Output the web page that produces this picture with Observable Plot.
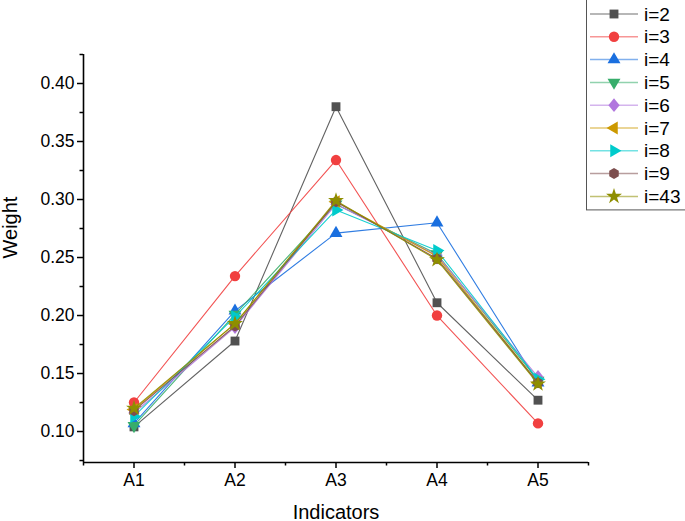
<!DOCTYPE html>
<html>
<head>
<meta charset="utf-8">
<script src="https://cdn.jsdelivr.net/npm/d3@7"></script>
<script src="https://cdn.jsdelivr.net/npm/@observablehq/plot@0.6"></script>
<style>
  html, body { margin: 0; padding: 0; background: #fff; }
  #wrap { position: relative; width: 685px; height: 521px; font-family: "Liberation Sans", Arial, sans-serif; }
  #legend { position: absolute; left: 0; top: 0; }
</style>
</head>
<body>
<div id="wrap"></div>
<script>
// ---- data ----
const categories = ["A1", "A2", "A3", "A4", "A5"];
const seriesNames = ["i=2", "i=3", "i=4", "i=5", "i=6", "i=7", "i=8", "i=9", "i=43"];
const w_i2  = [0.104, 0.178, 0.380, 0.211, 0.127];
const w_i3  = [0.125, 0.234, 0.334, 0.200, 0.107];
const w_i4  = [0.107, 0.204, 0.271, 0.280, 0.142];
const w_i5  = [0.105, 0.201, 0.296, 0.253, 0.144];
const w_i6  = [0.116, 0.190, 0.296, 0.252, 0.147];
const w_i7  = [0.119, 0.193, 0.298, 0.251, 0.142];
const w_i8  = [0.113, 0.199, 0.291, 0.256, 0.145];
const w_i9  = [0.118, 0.191, 0.298, 0.249, 0.142];
const w_i43 = [0.120, 0.193, 0.299, 0.248, 0.141];
const seriesValues = [w_i2, w_i3, w_i4, w_i5, w_i6, w_i7, w_i8, w_i9, w_i43];
const yTicks = [0.10, 0.15, 0.20, 0.25, 0.30, 0.35, 0.40];
const yMinorTicks = [0.075, 0.125, 0.175, 0.225, 0.275, 0.325, 0.375, 0.425];

// ---- styles ----
const colors = ["#515151", "#F14040", "#1A6FDF", "#37AD6B", "#B177DE", "#CC9900", "#00CBCC", "#7D4E4E", "#8E8E00"];

const sqrt3 = Math.sqrt(3);
function tri(dir) {
  return {
    draw(ctx, size) {
      const y = -Math.sqrt(size / (sqrt3 * 3));
      let pts = [[0, y * 2], [-sqrt3 * y, -y], [sqrt3 * y, -y]];
      if (dir === "down") pts = pts.map(([a, b]) => [a, -b]);
      if (dir === "left") pts = pts.map(([a, b]) => [b, a]);
      if (dir === "right") pts = pts.map(([a, b]) => [-b, a]);
      ctx.moveTo(pts[0][0], pts[0][1]);
      ctx.lineTo(pts[1][0], pts[1][1]);
      ctx.lineTo(pts[2][0], pts[2][1]);
      ctx.closePath();
    }
  };
}
const diamond = {
  draw(ctx, size) {
    const a = Math.sqrt(size / 2) ;
    ctx.moveTo(0, -a * 1.1);
    ctx.lineTo(a * 0.9, 0);
    ctx.lineTo(0, a * 1.1);
    ctx.lineTo(-a * 0.9, 0);
    ctx.closePath();
  }
};
const hexagon = {
  draw(ctx, size) {
    const r = Math.sqrt(size / (1.5 * sqrt3));
    for (let k = 0; k < 6; k++) {
      const ang = Math.PI / 6 + k * Math.PI / 3;
      const px = r * Math.cos(ang), py = r * Math.sin(ang);
      if (k === 0) ctx.moveTo(px, py); else ctx.lineTo(px, py);
    }
    ctx.closePath();
  }
};
const symbols = [d3.symbolSquare, d3.symbolCircle, tri("up"), tri("down"), diamond, tri("left"), tri("right"), hexagon, d3.symbolStar];
const symbolR = [5, 5.2, 4.8, 4.8, 5, 4.8, 4.8, 5, 5.0];

// ---- table ----
const rows = [];
seriesNames.forEach((name, s) => {
  seriesValues[s].forEach((v, k) => rows.push({series: name, idx: k + 1, cat: categories[k], value: v, s}));
});

const W = 685, H = 521;
const mL = 83, mR = 97, mT = 54, mB = 59;
const yDomain = [0.0733, 0.425];
const font = "Liberation Sans, Arial, sans-serif";

const marks = [];
seriesNames.forEach((name, s) => {
  const data = rows.filter(d => d.s === s);
  marks.push(Plot.line(data, {x: "idx", y: "value", stroke: colors[s], strokeWidth: 1.1, strokeOpacity: 0.9}));
  marks.push(Plot.dot(data, {x: "idx", y: "value", symbol: () => symbols[s], r: symbolR[s], fill: colors[s], stroke: "none"}));
});

const chart = Plot.plot({
  width: W, height: H,
  marginLeft: mL, marginRight: mR, marginTop: mT, marginBottom: mB,
  style: {fontFamily: font, background: "transparent", color: "#000"},
  x: {type: "linear", domain: [0.5, 5.5], axis: null},
  y: {domain: yDomain, axis: null},
  symbol: {type: "identity"},
  marks: [
    ...marks,
    // axis lines
    Plot.ruleX([0.5], {stroke: "#000", strokeWidth: 1.6}),
    Plot.ruleY([yDomain[0]], {stroke: "#000", strokeWidth: 1.6}),
    // x axis
    Plot.axisX({ticks: categories.map((c, k) => k + 1), tickFormat: d => categories[d - 1], tickSize: 6, tickPadding: 5, fontSize: 17.5, strokeWidth: 1.5, label: null, anchor: "bottom"}),
    Plot.axisX({ticks: [0.5, 1.5, 2.5, 3.5, 4.5, 5.5], tickFormat: () => "", tickSize: 3.5, strokeWidth: 1.5, label: null, anchor: "bottom"}),
    // y axis
    Plot.axisY({ticks: yTicks, tickFormat: d3.format(".2f"), tickSize: 6, tickPadding: 3, fontSize: 17.5, strokeWidth: 1.5, label: null, anchor: "left"}),
    Plot.axisY({ticks: yMinorTicks, tickFormat: () => "", tickSize: 3.5, strokeWidth: 1.5, label: null, anchor: "left"}),
    // axis titles
    Plot.text(["Indicators"], {frameAnchor: "bottom", dy: 56, fontSize: 20, fill: "#000"}),
    Plot.text(["Weight"], {frameAnchor: "left", dx: -73, rotate: -90, fontSize: 20, fill: "#000"})
  ]
});
document.getElementById("wrap").appendChild(chart);

// ---- legend (overlay) ----
const leg = d3.select("#wrap").append("svg")
  .attr("id", "legend").attr("width", W).attr("height", H)
  .style("pointer-events", "none");
const lx = 586, ly = -1, rowH = 22.8, firstY = 14;
leg.append("rect")
  .attr("x", lx + 0.5).attr("y", ly + 0.5)
  .attr("width", 110).attr("height", firstY + rowH * (seriesNames.length - 1) + 14)
  .attr("fill", "#fff").attr("stroke", "#555").attr("stroke-width", 1);
seriesNames.forEach((name, s) => {
  const cy = firstY + s * rowH;
  const g = leg.append("g").attr("transform", `translate(0,${cy})`);
  g.append("line").attr("x1", lx + 4).attr("x2", lx + 52).attr("y1", 0).attr("y2", 0)
    .attr("stroke", colors[s]).attr("stroke-width", 1.5).attr("stroke-opacity", 0.55);
  g.append("path").attr("transform", `translate(${lx + 28},0)`)
    .attr("d", d3.symbol(symbols[s], Math.PI * symbolR[s] * symbolR[s])())
    .attr("fill", colors[s]);
  g.append("text").attr("x", lx + 58).attr("y", 0).attr("dy", "0.35em")
    .attr("font-family", font).attr("font-size", 19).attr("fill", "#000").text(name);
});
</script>
</body>
</html>
